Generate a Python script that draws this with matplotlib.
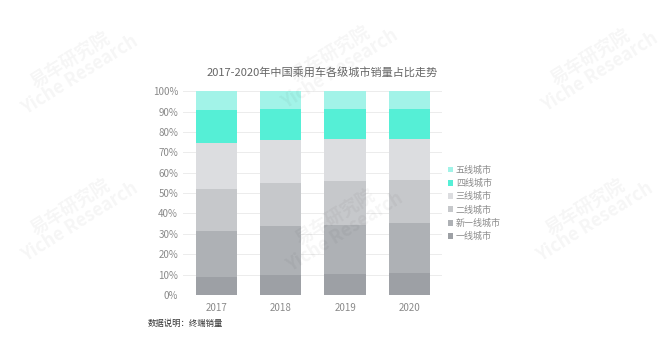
import matplotlib.pyplot as plt
import numpy as np

plt.rcParams['font.family'] = ['Noto Sans CJK SC', 'DejaVu Sans']

# share of sales by city tier, %
years = ["2017", "2018", "2019", "2020"]
tiers = ["一线城市", "新一线城市", "二线城市", "三线城市", "四线城市", "五线城市"]
tier1 = [9.0, 9.8, 10.3, 10.8]
new_tier1 = [22.4, 24.0, 24.2, 24.3]
tier2 = [20.7, 20.9, 21.4, 21.3]
tier3 = [22.4, 21.3, 20.7, 19.9]
tier4 = [16.2, 15.3, 14.7, 15.0]
tier5 = [9.3, 8.7, 8.7, 8.7]
colors = ["#9da0a5", "#aeb1b5", "#c6c8cb", "#dcdde0", "#55efd6", "#a2f3e8"]

series = [tier1, new_tier1, tier2, tier3, tier4, tier5]

fig = plt.figure(figsize=(6.7, 3.37), dpi=100)
ax = fig.add_axes([0.273, 0.1246, 0.387, 0.605])

x = np.arange(len(years))
bottom = np.zeros(len(years))
handles = []
for name, vals, c in zip(tiers, series, colors):
    b = ax.bar(x, vals, width=0.64, bottom=bottom, color=c, label=name, zorder=3)
    handles.append(b)
    bottom += np.array(vals)

ax.set_xlim(-0.52, 3.51)
ax.set_ylim(0, 100)
ax.set_yticks(range(0, 101, 10))
ax.set_yticklabels([f"{v}%" for v in range(0, 101, 10)])
ax.set_xticks(x)
ax.set_xticklabels(years)
ax.tick_params(length=0, labelsize=7, colors="#8a8a8a")
ax.tick_params(axis="x", pad=6)
ax.grid(axis="y", color="#ececec", linewidth=0.7, zorder=0)
for s in ax.spines.values():
    s.set_visible(False)

fig.text(322 / 670, 1 - 72 / 337, "2017-2020年中国乘用车各级城市销量占比走势",
         fontsize=8, color="#666666", ha="center", va="center")

leg = ax.legend(handles[::-1], tiers[::-1], loc="center left",
                bbox_to_anchor=(1.0, 0.45), frameon=False, fontsize=6.5,
                handlelength=0.6, handleheight=0.6, handletextpad=0.3,
                labelspacing=0.45, borderaxespad=0.2)
for t in leg.get_texts():
    t.set_color("#8a8a8a")

fig.text(0.221, 0.032, "数据说明：终端销量", fontsize=6, color="#333333")

# faint watermark on top of everything
for px, py in [(75, 68), (335, 62), (595, 65),
               (75, 215), (340, 225), (590, 215)]:
    fig.text(px / 670, 1 - py / 337, "易车研究院\nYiche Research", fontsize=13,
             color="black", alpha=0.04, rotation=32, ha="center", va="center",
             fontweight="bold", linespacing=0.9, zorder=10)

fig.savefig("out.png", dpi=100)
